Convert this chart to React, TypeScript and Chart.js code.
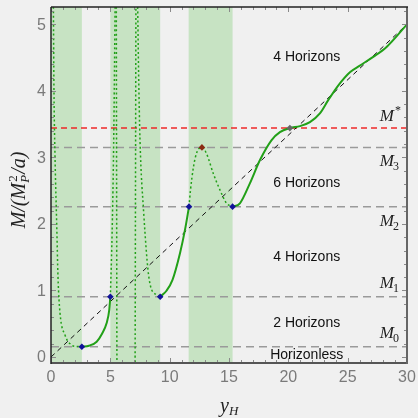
import React, { useEffect, useRef } from 'react';
import { Chart, registerables } from 'chart.js';

Chart.register(...registerables);

// ---- data ----
const xMin = 0;
const xMax = 30;
const yMin = -0.09;
const yMax = 5.26;
const xTickStep = 5;
const yTicks = [0, 1, 2, 3, 4, 5];

const bandStart = [0, 5.0, 11.6];
const bandEnd = [2.6, 9.2, 15.3];

const levelValues = [0.155, 0.905, 2.26, 3.15];
const levelSubs = ['0', '1', '2', '3'];
const mStar = 3.44;

const diagonal: [number, number][] = [[0, 0], [30, 5]];

const solidA: [number, number][] = [[2.6, 0.155], [3.2, 0.17], [3.85, 0.23], [4.3, 0.35], [4.69, 0.51], [4.91, 0.71], [5.0, 0.905]];
const solidB: [number, number][] = [[9.2, 0.905], [9.75, 1.0], [10.24, 1.16], [10.87, 1.56], [11.29, 1.91], [11.63, 2.26]];
const solidC: [number, number][] = [
  [15.3, 2.26], [15.92, 2.31], [16.76, 2.61], [17.61, 2.96], [18.59, 3.26], [19.29, 3.38], [20.13, 3.44],
  [20.98, 3.47], [21.82, 3.53], [22.66, 3.66], [23.36, 3.86], [24.2, 4.08], [25.19, 4.28], [26.03, 4.38],
  [27.15, 4.51], [28.28, 4.66], [30, 5.0],
];

const dottedA: [number, number][] = [[0.17, 5.6], [0.2, 5.26], [0.25, 4.0], [0.34, 3.0], [0.48, 2.0], [0.59, 1.2], [0.76, 0.66], [1.18, 0.33], [1.74, 0.18], [2.2, 0.158], [2.6, 0.155]];
const dottedB: [number, number][] = [[5.0, 0.905], [5.1, 1.5], [5.2, 2.3], [5.28, 3.2], [5.35, 4.3], [5.42, 5.6]];
const dottedC: [number, number][] = [[5.5, 5.6], [5.53, 2.5], [5.56, -0.2], [6.3, -3], [7.08, -0.2], [7.12, 2.5], [7.16, 5.6]];
const dottedD: [number, number][] = [[7.28, 5.6], [7.38, 4.3], [7.5, 3.26], [7.8, 2.2], [8.28, 1.16], [8.9, 0.93], [9.2, 0.905]];
const dottedE: [number, number][] = [[11.63, 2.26], [11.75, 2.5], [12.0, 2.85], [12.3, 3.08], [12.72, 3.15], [13.1, 3.06], [13.67, 2.76], [14.24, 2.51], [14.8, 2.31], [15.3, 2.26]];

const bluePts: [number, number][] = [[2.6, 0.155], [5.0, 0.905], [9.2, 0.905], [11.63, 2.26], [15.3, 2.26]];
const brownPts: [number, number][] = [[12.72, 3.15]];
const grayPts: [number, number][] = [[20.13, 3.44]];

const regionText = ['Horizonless', '2 Horizons', '4 Horizons', '6 Horizons', '4 Horizons'];
const regionY = [0.03, 0.51, 1.5, 2.61, 4.5];
const regionX = 21.55;

// ---- helpers ----
const toXY = (arr: [number, number][]) => arr.map(([x, y]) => ({ x, y }));
const GREEN = 'rgb(34,160,24)';

const lineDs = (data: [number, number][], color: string, width: number, dash: number[], smooth: boolean) => ({
  data: toXY(data),
  showLine: true,
  borderColor: color,
  backgroundColor: color,
  borderWidth: width,
  borderDash: dash,
  pointRadius: 0,
  pointHoverRadius: 0,
  cubicInterpolationMode: smooth ? 'monotone' : 'default',
  tension: 0,
  fill: false,
});

const pointDs = (data: [number, number][], color: string) => ({
  data: toXY(data),
  showLine: false,
  pointStyle: 'rectRot',
  pointRadius: 3.3,
  pointBackgroundColor: color,
  pointBorderColor: color,
  pointBorderWidth: 0,
});

const SERIF = '"Liberation Serif", "DejaVu Serif", serif';
const SANS = '"Liberation Sans", Arial, sans-serif';

const decor = {
  id: 'decor',
  beforeDraw(chart: any) {
    const { ctx, width, height } = chart;
    ctx.save();
    ctx.fillStyle = '#f0f0f0';
    ctx.fillRect(0, 0, width, height);
    ctx.restore();
  },
  beforeDatasetsDraw(chart: any) {
    const { ctx, chartArea } = chart;
    const xs = chart.scales.x;
    ctx.save();
    ctx.fillStyle = 'rgb(199,227,195)';
    for (let i = 0; i < bandStart.length; i++) {
      const a = xs.getPixelForValue(bandStart[i]);
      const b = xs.getPixelForValue(bandEnd[i]);
      ctx.fillRect(a, chartArea.top, b - a, chartArea.bottom - chartArea.top);
    }
    ctx.restore();
  },
  afterDatasetsDraw(chart: any) {
    const { ctx, chartArea } = chart;
    const xs = chart.scales.x;
    const ys = chart.scales.y;
    ctx.save();
    // region labels
    ctx.fillStyle = '#111';
    ctx.font = `14px ${SANS}`;
    ctx.textAlign = 'center';
    ctx.textBaseline = 'middle';
    for (let i = 0; i < regionText.length; i++) {
      ctx.fillText(regionText[i], xs.getPixelForValue(regionX), ys.getPixelForValue(regionY[i]));
    }
    // level labels
    const right = chartArea.right - 7;
    const drawLabel = (sub: string, sup: boolean, baseY: number) => {
      ctx.textBaseline = 'alphabetic';
      ctx.textAlign = 'left';
      ctx.font = `12px ${SERIF}`;
      const sw = ctx.measureText(sub).width;
      ctx.font = `italic 17px ${SERIF}`;
      const mw = ctx.measureText('M').width;
      const x0 = right - sw - mw;
      ctx.fillStyle = '#222';
      ctx.fillText('M', x0, baseY);
      ctx.font = `12px ${SERIF}`;
      ctx.fillText(sub, x0 + mw + (sup ? 1 : -1), baseY + (sup ? -7 : 4));
    };
    const above = [true, true, false, false];
    for (let i = 0; i < levelValues.length; i++) {
      const py = ys.getPixelForValue(levelValues[i]);
      drawLabel(levelSubs[i], false, above[i] ? py - 9 : py + 19);
    }
    drawLabel('*', true, ys.getPixelForValue(mStar) - 7);
    ctx.restore();
  },
  afterDraw(chart: any) {
    const { ctx, chartArea } = chart;
    const xs = chart.scales.x;
    const ys = chart.scales.y;
    const { left, right, top, bottom } = chartArea;
    ctx.save();
    // tick labels
    ctx.fillStyle = '#7a7a7a';
    ctx.font = `16px ${SANS}`;
    ctx.textAlign = 'center';
    ctx.textBaseline = 'middle';
    for (const t of xs.ticks) {
      ctx.fillText(String(t.value), xs.getPixelForValue(t.value), bottom + 15);
    }
    ctx.textAlign = 'right';
    for (const t of ys.ticks) {
      ctx.fillText(String(t.value), left - 5, ys.getPixelForValue(t.value) + 1);
    }
    // ticks inward
    ctx.strokeStyle = '#8a8a8a';
    ctx.lineWidth = 1;
    ctx.beginPath();
    for (let v = xMin; v <= xMax; v += 1) {
      const px = Math.round(xs.getPixelForValue(v)) + 0.5;
      const len = v % xTickStep === 0 ? 5 : 3;
      ctx.moveTo(px, bottom); ctx.lineTo(px, bottom - len);
      ctx.moveTo(px, top); ctx.lineTo(px, top + len);
    }
    for (let i = 0; i <= 26; i++) {
      const v = i * 0.2;
      const py = Math.round(ys.getPixelForValue(v)) + 0.5;
      const len = i % 5 === 0 ? 5 : 3;
      ctx.moveTo(left, py); ctx.lineTo(left + len, py);
      ctx.moveTo(right, py); ctx.lineTo(right - len, py);
    }
    ctx.stroke();
    // frame
    ctx.lineWidth = 2;
    ctx.strokeStyle = '#555';
    ctx.beginPath(); ctx.moveTo(left, bottom); ctx.lineTo(right, bottom); ctx.stroke();
    ctx.strokeStyle = '#666';
    ctx.beginPath(); ctx.moveTo(right, top); ctx.lineTo(right, bottom + 1); ctx.stroke();
    ctx.lineWidth = 1.5;
    ctx.strokeStyle = '#222';
    ctx.beginPath(); ctx.moveTo(left, top); ctx.lineTo(right + 1, top); ctx.stroke();
    ctx.beginPath(); ctx.moveTo(left, top); ctx.lineTo(left, bottom + 1); ctx.stroke();

    // y title
    ctx.fillStyle = '#222';
    ctx.textBaseline = 'alphabetic';
    ctx.textAlign = 'left';
    const big = `italic 20px ${SERIF}`;
    const small = `italic 13px ${SERIF}`;
    const smallR = `13px ${SERIF}`;
    ctx.font = big;
    const w1 = ctx.measureText('M/(M').width;
    const w3 = ctx.measureText('/a)').width;
    ctx.font = smallR;
    const w2a = ctx.measureText('2').width;
    ctx.font = small;
    const w2b = ctx.measureText('P').width;
    const w2 = Math.max(w2a, w2b) + 1;
    const total = w1 + w2 + w3;
    ctx.translate(25, 190);
    ctx.rotate(-Math.PI / 2);
    let cx = -total / 2;
    ctx.font = big; ctx.fillText('M/(M', cx, 0); cx += w1;
    ctx.font = smallR; ctx.fillText('2', cx + 1, -8);
    ctx.font = small; ctx.fillText('P', cx, 4);
    cx += w2;
    ctx.font = big; ctx.fillText('/a)', cx, 0);
    ctx.setTransform(1, 0, 0, 1, 0, 0);

    // x title
    ctx.font = big;
    ctx.fillText('y', 220, 412);
    const yw = ctx.measureText('y').width;
    ctx.font = small;
    ctx.fillText('H', 220 + yw, 415);
    ctx.restore();
  },
};

export default function App() {
  const ref = useRef<HTMLCanvasElement | null>(null);
  useEffect(() => {
    document.body.style.margin = '0';
    document.body.style.background = '#f0f0f0';
    const canvas = ref.current;
    if (!canvas) return;
    const chart = new Chart(canvas, {
      type: 'scatter',
      data: {
        datasets: [
          pointDs(bluePts, '#12129a'),
          pointDs(brownPts, '#8b2a12'),
          pointDs(grayPts, '#666666'),
          lineDs(solidA, GREEN, 2, [], true),
          lineDs(solidB, GREEN, 2, [], true),
          lineDs(solidC, GREEN, 2, [], true),
          lineDs(dottedA, GREEN, 1.5, [2, 2.5], true),
          lineDs(dottedB, GREEN, 1.5, [2, 2.5], true),
          lineDs(dottedC, GREEN, 1.5, [2, 2.5], true),
          lineDs(dottedD, GREEN, 1.5, [2, 2.5], true),
          lineDs(dottedE, GREEN, 1.5, [2, 2.5], true),
          lineDs(diagonal, '#111', 1, [5, 4], false),
          lineDs([[xMin, mStar], [xMax, mStar]], 'rgb(238,40,40)', 1.5, [6, 4], false),
          ...levelValues.map((v) => lineDs([[xMin, v], [xMax, v]], '#9a9a9a', 1.5, [8, 5], false)),
        ] as any,
      },
      options: {
        animation: false,
        responsive: false,
        events: [],
        layout: { padding: { top: 7, right: 11, left: 0, bottom: 0 } },
        plugins: { legend: { display: false }, tooltip: { enabled: false }, title: { display: false } },
        scales: {
          x: {
            type: 'linear',
            min: xMin,
            max: xMax,
            grid: { display: false, drawTicks: false },
            border: { display: false },
            ticks: { display: false, stepSize: xTickStep },
            afterFit: (s: any) => { s.height = 55; },
          },
          y: {
            type: 'linear',
            min: yMin,
            max: yMax,
            grid: { display: false, drawTicks: false },
            border: { display: false },
            ticks: { display: false },
            afterBuildTicks: (s: any) => { s.ticks = yTicks.map((v) => ({ value: v })); },
            afterFit: (s: any) => { s.width = 51; },
          },
        },
      } as any,
      plugins: [decor],
    });
    return () => chart.destroy();
  }, []);
  return (
    <div style={{ width: 418, height: 418 }}>
      <canvas ref={ref} width={418} height={418} style={{ display: 'block' }} />
    </div>
  );
}
